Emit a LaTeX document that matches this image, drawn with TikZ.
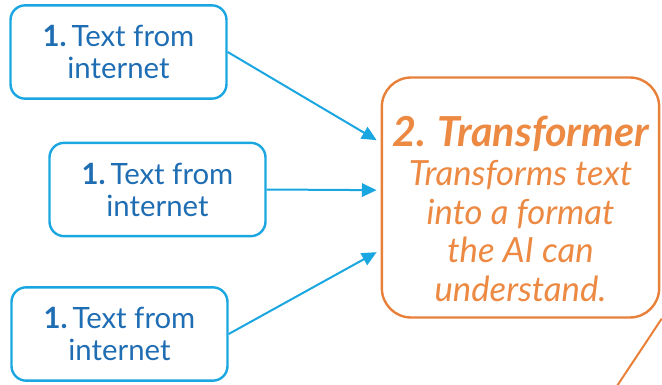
\documentclass[tikz,border=0pt]{standalone}
\usepackage{fontspec}
\setmainfont{Lato}
\usepackage{xcolor}
\usetikzlibrary{positioning,arrows.meta}

\definecolor{srcline}{HTML}{1AA6E0}
\definecolor{srctext}{HTML}{1F6DB3}
\definecolor{trfline}{HTML}{E8803A}
\definecolor{trftext}{HTML}{EC8942}

\tikzset{
  srcbox/.style={draw=srcline, line width=1.8pt, rounded corners=11pt,
    minimum width=162pt, minimum height=70pt, align=center,
    text=srctext, font=\fontsize{22}{24}\selectfont},
  trfbox/.style={draw=trfline, line width=1.8pt, rounded corners=22pt,
    minimum width=208pt, minimum height=180pt, align=center,
    text=trftext, font=\itshape\fontsize{26}{29}\selectfont},
  feed/.style={draw=srcline, line width=1.5pt, -{Triangle[length=11pt,width=10pt]}},
}

\begin{document}
\begin{tikzpicture}[x=0.75pt,y=-0.75pt]
\useasboundingbox (0,0) rectangle (662,385);
\clip (0,0) rectangle (662,385);
% Sources
\node[srcbox] (src1) at (118.5,52) {\textbf{1.}\,Text from\\internet};
\node[srcbox] (src2) at (157.5,189.5) {\textbf{1.}\,Text from\\internet};
\node[srcbox] (src3) at (119.5,334) {\textbf{1.}\,Text from\\internet};
% Transformer
\node[trfbox] (trf) at (520.5,197.5) {\rule{0pt}{40pt}{\bfseries\fontsize{31}{29}\selectfont 2. Transformer}\\Transforms text\\into a format\\the AI can\\understand.};
% Arrows
\draw[feed] (src1.east) -- ([xshift=-3pt,yshift=43pt]trf.west);
\draw[feed] (src2.east) -- ([xshift=-3pt,yshift=5.5pt]trf.west);
\draw[feed] (src3.east) -- ([xshift=-3pt,yshift=-41pt]trf.west);
% Tail
\coordinate (tail) at (611,395);
\draw[trfline, line width=1.5pt] ([xshift=1pt]trf.south east) -- (tail);
\end{tikzpicture}
\end{document}
